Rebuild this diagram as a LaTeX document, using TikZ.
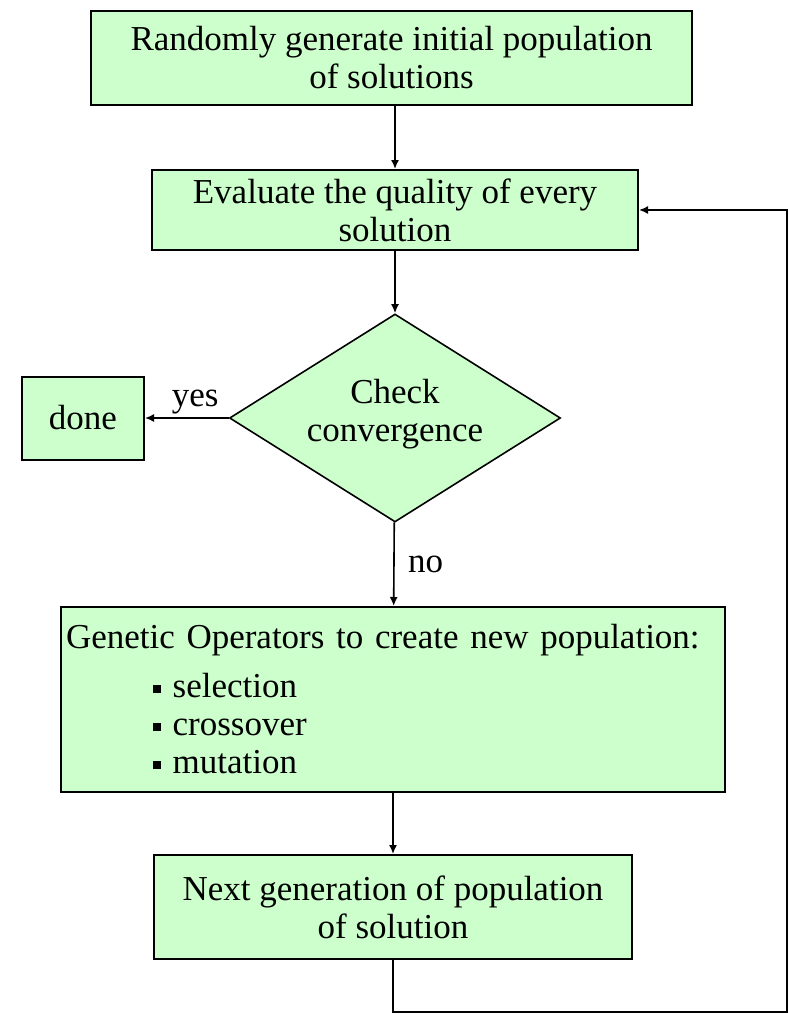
\documentclass[tikz,border=0pt]{standalone}
\usepackage{fontspec}
\setmainfont{Liberation Serif}
\usetikzlibrary{shapes.geometric,arrows.meta}
\definecolor{gagreen}{RGB}{204,255,204}
\newcommand{\itembox}{\rule[5pt]{8pt}{8pt}}
\begin{document}
\begin{tikzpicture}[x=1pt,y=-1pt,
  every node/.style={font=\fontsize{35}{38}\selectfont},
  box/.style={draw,line width=2pt,fill=gagreen,inner sep=0pt,align=center},
  test/.style={draw,line width=1.6pt,fill=gagreen,diamond,aspect=1.59,inner sep=0pt,align=center},
  >={Latex[length=9pt,width=8pt]},
  line/.style={->,line width=1.6pt}]
\useasboundingbox (0,0) rectangle (789,1014);
\node[box,minimum width=601,minimum height=94] (init) at (391.5,58) {Randomly generate initial population\\of solutions};
\node[box,minimum width=486,minimum height=80] (eval) at (395,210) {Evaluate the quality of every\\solution};
\node[test,minimum width=331,minimum height=208] (check) at (395,418) {Check\\convergence\\[-22pt]\mbox{}};
\node[box,minimum width=122,minimum height=83] (done) at (83,418) {done};
\node[box,minimum width=664,minimum height=185,text width=654,align=left] (genop) at (393,699.5) {Genetic Operators to create new population:\\[11pt]
  \hspace*{87pt}\itembox\ selection\\
  \hspace*{87pt}\itembox\ crossover\\
  \hspace*{87pt}\itembox\ mutation};
\node[box,minimum width=478,minimum height=104] (next) at (393,907) {Next generation of population\\of solution};
\coordinate (corner) at (787,1012);
\draw[line] (init.south -| eval.north) -- (eval.north);
\draw[line] (eval) -- (check);
\draw[line] (check) -- node[above,pos=0.4] {yes} (done);
\draw[line] (check) -- node[right=10pt] {no} (genop);
\draw[line] (genop) -- (next);
\draw[line] (next) |- (corner) |- (eval);
\end{tikzpicture}
\end{document}
